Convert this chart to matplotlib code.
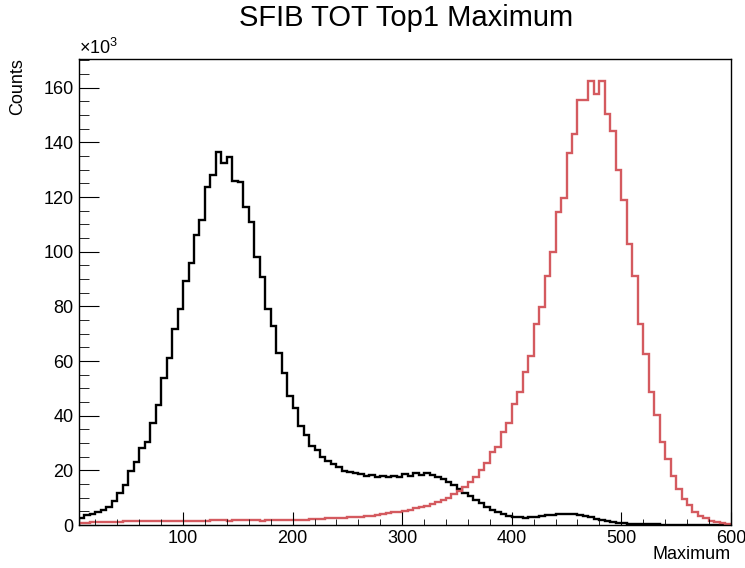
import numpy as np
import matplotlib
matplotlib.use("Agg")
import matplotlib.pyplot as plt
from matplotlib.ticker import MultipleLocator, FuncFormatter

plt.rcParams['font.family'] = ['Liberation Sans', 'DejaVu Sans']
plt.rcParams['mathtext.fontset'] = 'custom'
plt.rcParams['mathtext.rm'] = 'Liberation Sans'
plt.rcParams['mathtext.it'] = 'Liberation Sans'

# bins of width 5 from 5 to 600 (counts in thousands)
edges = np.arange(5, 601, 5)

black_k = [
    2.5, 3.7, 4.0, 4.7, 5.5, 6.7, 8.8, 11.6, 14.6, 19.7, 23.2, 28.0, 30.2, 37.4, 43.9, 53.9,
    61.2, 71.7, 78.9, 89.3, 95.9, 106.0, 111.5, 123.7,
    128.0, 136.4, 132.6, 134.7, 126.0, 125.5, 116.3, 111.0, 98.2, 90.9, 78.9, 72.8, 62.8,
    55.7, 47.2, 42.7, 36.4, 32.9, 28.9, 27.6, 25.0, 23.5,
    22.3, 21.3, 19.9, 19.4, 18.9, 18.6, 17.9, 18.3, 17.7, 17.9, 17.4, 17.9, 17.4, 18.6,
    17.9, 18.9, 18.3, 18.9, 18.3, 17.6,
    16.8, 15.8, 14.6, 13.1, 11.7, 10.5, 9.1, 7.9, 6.6, 5.6, 4.9, 4.0, 3.4, 3.0, 2.8, 2.7,
    2.8, 3.0, 3.3, 3.6, 3.8, 3.9, 4.1, 4.1, 4.0, 3.7, 3.3,
    2.8, 2.3, 1.9, 1.5, 1.1, 0.85, 0.65, 0.5, 0.4, 0.35, 0.3, 0.25, 0.2, 0.18, 0.15, 0.12,
    0.1, 0.08, 0.07, 0.06, 0.05, 0.04, 0.03, 0.03, 0.02, 0.02,
]

red_k = [
    0.8, 0.9, 1.0, 1.0, 1.1, 1.1, 1.2, 1.2, 1.3, 1.3, 1.3, 1.4, 1.4, 1.4, 1.5, 1.5, 1.5,
    1.5, 1.5, 1.6,
    1.6, 1.6, 1.6, 1.6, 1.7, 1.7, 1.7, 1.6, 1.7, 1.7, 1.7, 1.7, 1.7, 1.6, 1.7, 1.7, 1.7,
    1.8, 1.8, 1.9,
    1.9, 2.0, 2.1, 2.2, 2.3, 2.4, 2.5, 2.6, 2.7, 2.8, 2.9, 3.0, 3.2, 3.4, 3.7, 4.0,
    4.3, 4.6, 4.9, 5.2, 5.6, 6.1, 6.6, 7.1, 7.8, 8.5,
    9.2, 10.0, 11.2, 12.5, 13.8, 15.8, 17.7, 20.1, 22.8, 26.8, 28.6, 34.1, 37.5, 44.1,
    48.7, 56.0, 61.8, 73.7, 79.6, 91.2, 99.9, 114.6, 119.8, 136.1, 143.2,
    155.4, 155.4, 162.5, 157.8, 162.5, 150.5, 144.2, 129.8, 118.8, 102.7, 91.0, 73.5,
    62.5, 48.5, 40.2, 30.5, 24.1, 18.0, 13.2, 9.5, 7.3, 4.9, 3.4, 2.4, 1.6, 1.0, 0.6, 0.4,
]

black = np.array(black_k) * 1000
red = np.array(red_k) * 1000

fig = plt.figure(figsize=(7.45, 5.68), dpi=100)
ax = fig.add_axes([0.106, 0.0757, 0.875, 0.8203])

ax.stairs(black, edges, color='black', lw=1.7)
ax.stairs(red, edges, color='#d45a5f', lw=1.7)

ax.set_xlim(5, 600)
ax.set_ylim(0, 170500)

ax.xaxis.set_major_locator(MultipleLocator(100))
ax.xaxis.set_minor_locator(MultipleLocator(20))
ax.yaxis.set_major_locator(MultipleLocator(20000))
ax.yaxis.set_minor_locator(MultipleLocator(5000))
ax.yaxis.set_major_formatter(FuncFormatter(lambda v, p: '%d' % round(v / 1000)))

ax.tick_params(which='both', direction='in', top=False, right=False, labelsize=13)
ax.tick_params(axis='x', which='major', length=9.5, pad=3.5)
ax.tick_params(axis='x', which='minor', length=4.5)
ax.tick_params(axis='y', which='major', length=14.5, pad=4)
ax.tick_params(axis='y', which='minor', length=7)
for s in ax.spines.values():
    s.set_linewidth(1.0)

fig.text(0.545, 0.968, 'SFIB TOT Top1 Maximum', ha='center', va='center', fontsize=21)
ax.text(0.0, 1.003, r'$\times10^{3}$', transform=ax.transAxes, ha='left', va='bottom',
        fontsize=13)
fig.text(0.981, 0.024, 'Maximum', ha='right', va='center', fontsize=13)
fig.text(0.024, 0.898, 'Counts', ha='center', va='top', rotation=90, fontsize=13)

fig.savefig('out.png', dpi=100)
